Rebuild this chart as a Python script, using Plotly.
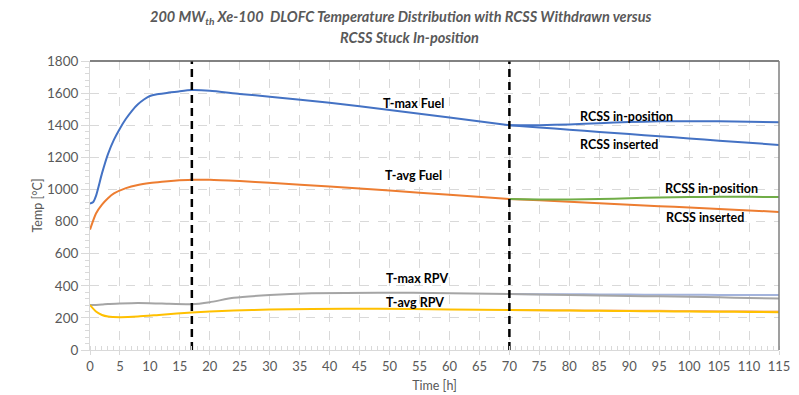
import plotly.graph_objects as go

# ---------------- data ----------------
tmax_fuel_t = [0, 0.5, 1, 2, 3, 4, 5, 6, 7, 8, 9, 10, 11, 13, 15, 17, 20, 25, 30, 40, 50, 60, 70]
tmax_fuel = [913, 920, 960, 1100, 1220, 1310, 1380, 1440, 1490, 1530, 1560, 1582, 1592, 1602, 1612, 1619, 1615, 1595, 1578, 1540, 1495, 1448, 1400]

tavg_fuel_t = [0, 1, 2, 3, 4, 6, 8, 10, 12, 14, 17, 20, 25, 30, 40, 50, 60, 70]
tavg_fuel = [750, 850, 905, 945, 975, 1008, 1028, 1040, 1048, 1054, 1060, 1060, 1052, 1042, 1018, 993, 967, 940]

rpv_t = [0, 1, 2, 3, 5, 8, 12, 17, 20, 24, 30, 37, 48, 60, 70]
tmax_rpv = [280, 281, 283, 286, 289, 292, 289, 285, 298, 325, 342, 353, 357, 354, 349]
tavg_rpv = [280, 240, 218, 208, 204, 208, 220, 234, 240, 246, 252, 255, 257, 253, 249]

post_t = [70, 75, 80, 85, 90, 95, 100, 105, 110, 115]
tmax_fuel_inpos = [1400, 1400, 1405, 1413, 1420, 1424, 1425, 1424, 1422, 1419]
tmax_fuel_ins = [1400, 1386, 1372, 1358, 1345, 1331, 1318, 1304, 1291, 1277]
tavg_fuel_inpos = [940, 938, 937, 940, 945, 950, 953, 954, 954, 953]
tavg_fuel_ins = [940, 932, 923, 914, 905, 896, 887, 878, 869, 860]
tmax_rpv_inpos = [349, 348, 347, 346, 345, 344, 344, 343, 343, 343]
tmax_rpv_ins = [349, 346, 343, 340, 337, 334, 331, 328, 324, 320]
tavg_rpv_inpos = [249, 248, 247, 246, 245, 244, 243, 242, 241, 240]
tavg_rpv_ins = [249, 247, 246, 244, 243, 241, 240, 238, 237, 235]

event_times = [17, 70]
y_range = [0, 1800]

labels = [
    ("T-max Fuel", 54, 1538),
    ("T-avg Fuel", 54, 1084),
    ("RCSS in-position", 89.6, 1457),
    ("RCSS inserted", 88.3, 1277),
    ("RCSS in-position", 103.7, 1003),
    ("RCSS inserted", 102.7, 826),
    ("T-max RPV", 54.5, 446),
    ("T-avg RPV", 54.3, 297),
]

title_lines = [
    "200 MW<sub>th</sub> Xe-100  DLOFC Temperature Distribution with RCSS Withdrawn versus",
    "RCSS Stuck In-position",
]

# ---------------- figure ----------------
BLUE = "#4472C4"
ORANGE = "#ED7D31"
GRAY = "#A5A5A5"
YELLOW = "#FFC000"
GREEN = "#70AD47"

fig = go.Figure()

def add(x, y, color, width=2):
    fig.add_trace(go.Scatter(x=x, y=y, mode="lines", line=dict(color=color, width=width, shape="spline", smoothing=0.6),
                             showlegend=False, hoverinfo="skip"))

add(post_t, tmax_rpv_inpos, "#A3B3DC")
add(post_t, tmax_rpv_ins, GRAY)
add(post_t, tavg_rpv_inpos, "#F4B183")
add(post_t, tavg_rpv_ins, YELLOW)
add(rpv_t, tmax_rpv, GRAY)
add(rpv_t, tavg_rpv, YELLOW)
add(post_t, tmax_fuel_inpos, BLUE)
add(post_t, tmax_fuel_ins, BLUE)
add(post_t, tavg_fuel_ins, ORANGE)
add(post_t, tavg_fuel_inpos, GREEN)
add(tmax_fuel_t, tmax_fuel, BLUE)
add(tavg_fuel_t, tavg_fuel, ORANGE)

for t in event_times:
    fig.add_trace(go.Scatter(x=[t, t], y=y_range, mode="lines",
                             line=dict(color="black", width=2.5, dash="8px,5px"),
                             showlegend=False, hoverinfo="skip"))

for txt, x, y in labels:
    fig.add_annotation(x=x, y=y, text=f"<b>{txt}</b>", showarrow=False,
                       font=dict(family="Lato", size=12.5, color="black"))

# title as two centred annotation lines
fig.add_annotation(xref="paper", yref="paper", x=0.4514, y=1.149, xanchor="center", yanchor="middle",
                   text=f"<b><i>{title_lines[0]}</i></b>", showarrow=False,
                   font=dict(family="Lato", size=14.5, color="#595959"))
fig.add_annotation(xref="paper", yref="paper", x=0.4644, y=1.0796, xanchor="center", yanchor="middle",
                   text=f"<b><i>{title_lines[1]}</i></b>", showarrow=False,
                   font=dict(family="Lato", size=14.5, color="#595959"))

# frame: top and right borders
fig.add_shape(type="line", xref="paper", yref="paper", x0=0, x1=1, y0=1, y1=1,
              line=dict(color="#595959", width=1.5))
fig.add_shape(type="line", xref="paper", yref="paper", x0=1, x1=1, y0=0, y1=1,
              line=dict(color="#7F7F7F", width=1.5))

# the page body adds an 8px offset; compensate so the plot sits where the reference has it
fig.update_layout(
    width=791, height=387,
    margin=dict(l=82, r=20, t=53, b=45, autoexpand=False),
    paper_bgcolor="white", plot_bgcolor="white",
    font=dict(family="Lato", color="#595959"),
    xaxis=dict(
        range=[0, 115], tick0=0, dtick=5, automargin=False,
        showgrid=True, gridcolor="#D9D9D9", griddash="dash", gridwidth=1,
        showline=True, linecolor="#D9D9D9", linewidth=1,
        ticks="outside", ticklen=4, tickcolor="#D9D9D9",
        minor=dict(dtick=1, ticks="inside", ticklen=4, tickcolor="#D9D9D9", showgrid=False),
        zeroline=False,
        tickfont=dict(size=13, color="#595959"),
        title=dict(text="Time [h]", font=dict(size=12.5, color="#595959"), standoff=8),
    ),
    yaxis=dict(
        range=y_range, tick0=0, dtick=200, automargin=False,
        showgrid=True, gridcolor="#D9D9D9", griddash="dash", gridwidth=1,
        showline=True, linecolor="#D9D9D9", linewidth=1,
        ticks="outside", ticklen=8, tickcolor="#D9D9D9",
        minor=dict(dtick=40, ticks="outside", ticklen=4, tickcolor="#D9D9D9", showgrid=False),
        zeroline=False,
        tickfont=dict(size=13.5, color="#595959"),
        title=dict(text="Temp [°C]", font=dict(size=12.5, color="#595959"), standoff=1),
    ),
)

fig.write_html("out.html")
